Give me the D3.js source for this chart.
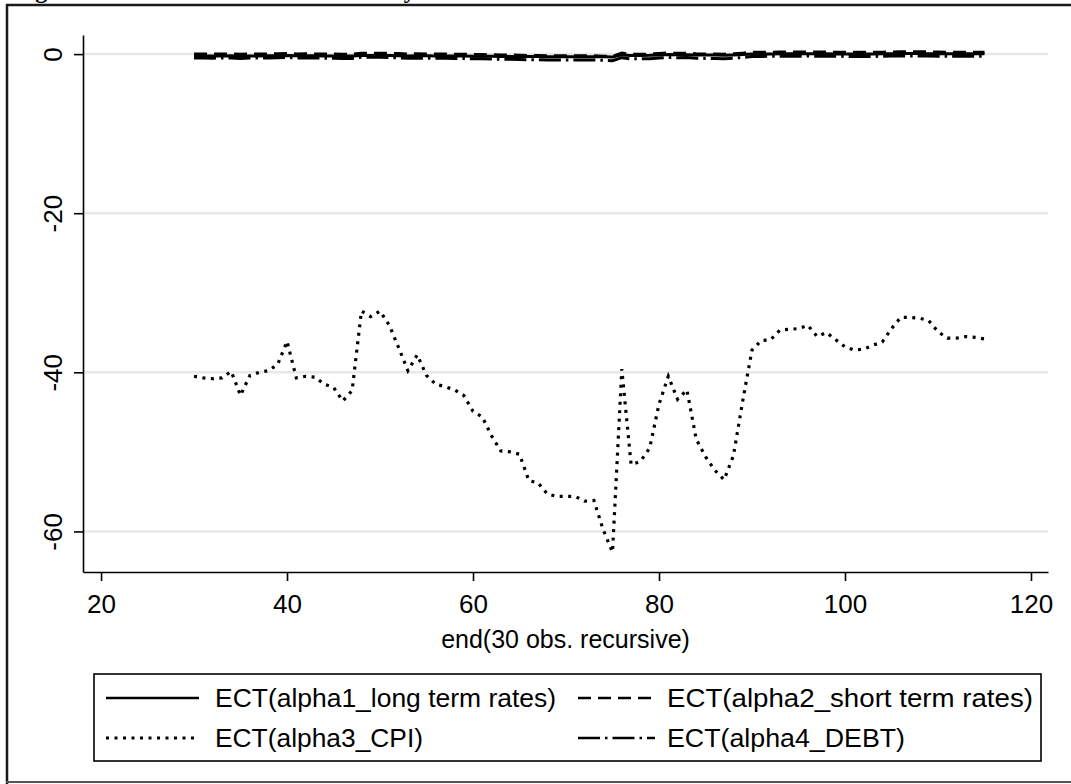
<!DOCTYPE html>
<html>
<head>
<meta charset="utf-8">
<script src="https://cdn.jsdelivr.net/npm/d3@7"></script>
<style>
  body { margin: 0; background: #fff; }
  svg { display: block; }
</style>
</head>
<body>
<div id="ect_vis"></div>
<script>
// recursive end points (30 obs. window)
let ends = d3.range(30, 116);

// ECT coefficient estimates
let alpha1 = [-0.22,-0.24,-0.25,-0.23,-0.22,-0.26,-0.24,-0.23,-0.21,-0.20,
              -0.18,-0.22,-0.21,-0.22,-0.24,-0.23,-0.25,-0.24,-0.17,-0.18,
              -0.17,-0.19,-0.20,-0.23,-0.21,-0.22,-0.23,-0.23,-0.24,-0.24,
              -0.26,-0.27,-0.28,-0.29,-0.29,-0.30,-0.31,-0.31,-0.32,-0.32,
              -0.32,-0.32,-0.33,-0.32,-0.34,-0.36,-0.10,-0.18,-0.17,-0.15,
              -0.10,-0.06,-0.08,-0.07,-0.10,-0.11,-0.12,-0.13,-0.10,-0.05,
               0.00, 0.01, 0.02, 0.03, 0.03, 0.03, 0.04, 0.03, 0.03, 0.02,
               0.01, 0.00, 0.01, 0.02, 0.03, 0.05, 0.06, 0.06, 0.06, 0.05,
               0.04, 0.03, 0.03, 0.03, 0.03, 0.03];

let alpha2 = [ 0.02, 0.00, 0.00, 0.01, 0.03,-0.03, 0.01, 0.02, 0.02, 0.04,
               0.08, 0.02, 0.03, 0.02, 0.01, 0.00,-0.02,-0.01, 0.12, 0.10,
               0.12, 0.09, 0.06, 0.02, 0.04, 0.01, 0.00, 0.00,-0.01,-0.02,
              -0.05,-0.06,-0.09,-0.12,-0.12,-0.13,-0.17,-0.18,-0.20,-0.20,
              -0.20,-0.20,-0.21,-0.21,-0.26,-0.30, 0.14,-0.03,-0.02, 0.00,
               0.08, 0.14, 0.10, 0.12, 0.05, 0.02, 0.00,-0.01, 0.03, 0.12,
               0.22, 0.23, 0.24, 0.26, 0.26, 0.26, 0.27, 0.25, 0.26, 0.24,
               0.23, 0.22, 0.22, 0.23, 0.24, 0.27, 0.29, 0.29, 0.29, 0.28,
               0.25, 0.24, 0.24, 0.24, 0.24, 0.24];

let alpha3 = [-40.5,-40.7,-40.8,-40.7,-39.9,-42.9,-40.4,-40.0,-39.8,-39.0,
              -36.1,-40.7,-40.5,-40.6,-41.5,-41.9,-43.6,-42.3,-32.3,-33.0,
              -32.3,-34.1,-36.9,-39.8,-37.8,-40.4,-41.5,-41.8,-42.2,-42.9,
              -44.9,-45.6,-48.0,-49.9,-50.0,-50.3,-53.6,-53.9,-55.3,-55.6,
              -55.6,-55.6,-56.2,-56.1,-59.8,-62.6,-39.6,-51.6,-51.2,-49.5,
              -44.0,-40.5,-43.4,-42.2,-48.4,-50.6,-52.3,-53.5,-50.5,-43.6,
              -37.2,-36.0,-35.9,-34.7,-34.6,-34.5,-34.1,-35.5,-35.0,-35.9,
              -36.8,-37.2,-37.1,-36.6,-36.2,-34.5,-33.1,-33.1,-33.2,-33.5,
              -34.9,-35.7,-35.7,-35.5,-35.6,-35.8];

let alpha4 = [-0.48,-0.50,-0.51,-0.50,-0.48,-0.54,-0.50,-0.49,-0.48,-0.46,
              -0.42,-0.49,-0.48,-0.49,-0.51,-0.52,-0.55,-0.54,-0.40,-0.41,
              -0.40,-0.43,-0.47,-0.51,-0.49,-0.52,-0.53,-0.53,-0.54,-0.55,
              -0.59,-0.60,-0.63,-0.66,-0.66,-0.67,-0.71,-0.72,-0.74,-0.74,
              -0.74,-0.74,-0.75,-0.75,-0.79,-0.83,-0.45,-0.60,-0.59,-0.57,
              -0.48,-0.43,-0.46,-0.44,-0.51,-0.54,-0.56,-0.57,-0.52,-0.42,
              -0.30,-0.29,-0.28,-0.26,-0.26,-0.26,-0.25,-0.27,-0.26,-0.28,
              -0.29,-0.30,-0.30,-0.29,-0.28,-0.25,-0.23,-0.23,-0.23,-0.24,
              -0.27,-0.28,-0.28,-0.28,-0.28,-0.28];

let xTicks = [20, 40, 60, 80, 100, 120];
let yTicks = [0, -20, -40, -60];

let seriesLabels = ["ECT(alpha1_long term rates)", "ECT(alpha2_short term rates)",
                    "ECT(alpha3_CPI)", "ECT(alpha4_DEBT)"];

let titleText = "Figure 6: ECT Coefficients Recursively";
let xTitle = "end(30 obs. recursive)";

// line patterns for each series (solid, dash, dot, long dash dot)
let dashes = ["none", "13,7", "3,5.5", "22,5,2.5,5"];

let font = "'Liberation Sans', Arial, sans-serif";

let svg = d3.select("#ect_vis")
    .append("svg")
    .attr("width", 1071)
    .attr("height", 784);

// scales
let x = d3.scaleLinear()
    .domain([18.06, 121.83])
    .range([83, 1048]);
let y = d3.scaleLinear()
    .domain([-65.1, 2.4])
    .range([572, 35]);

// title, only its lower edge shows above the frame
svg.append("text")
    .attr("x", 14)
    .attr("y", -2)
    .style("font-family", "'Liberation Serif', 'Times New Roman', serif")
    .style("font-weight", "bold")
    .style("font-size", "24px")
    .text(titleText);

// outer frame
svg.append("line")
    .attr("x1", 6).attr("x2", 1071).attr("y1", 5).attr("y2", 5)
    .style("stroke", "#1a1a1a").style("stroke-width", 2.5);
svg.append("line")
    .attr("x1", 7).attr("x2", 7).attr("y1", 4).attr("y2", 784)
    .style("stroke", "#1a1a1a").style("stroke-width", 2.5);
svg.append("line")
    .attr("x1", 6).attr("x2", 1071).attr("y1", 782).attr("y2", 782)
    .style("stroke", "#555").style("stroke-width", 2);

// gridlines
svg.selectAll(".grid")
    .data(yTicks)
    .enter()
    .append("line")
    .attr("class", "grid")
    .attr("x1", x.range()[0] + 1)
    .attr("x2", x.range()[1])
    .attr("y1", function(d) { return y(d); })
    .attr("y2", function(d) { return y(d); })
    .style("stroke", "#e8e8e8")
    .style("stroke-width", 2.5);

// series lines
let allSeries = [alpha1, alpha2, alpha3, alpha4];

let dataline = d3.line()
    .x(function(d, i) { return x(ends[i]); })
    .y(function(d) { return y(d); });

allSeries.forEach(function(s, k) {
    svg.append("path")
        .datum(s)
        .attr("class", "line")
        .style("fill", "none")
        .style("stroke", "#000")
        .style("stroke-width", k === 2 ? 3.2 : 3)
        .style("stroke-dasharray", dashes[k])
        .attr("d", dataline);
});

// y axis
let yAxis = svg.append("g")
    .attr("transform", "translate(" + x.range()[0] + ",0)")
    .call(d3.axisLeft(y).tickValues(yTicks).tickFormat(d3.format("d")).tickSize(9).tickSizeOuter(0));
yAxis.select(".domain").style("stroke-width", 1.6);
yAxis.selectAll(".tick line").style("stroke-width", 1.6);
yAxis.selectAll(".tick text")
    .attr("transform", "rotate(-90)")
    .attr("x", 0)
    .attr("y", -21)
    .attr("dy", 0)
    .style("text-anchor", "middle")
    .style("font-family", font)
    .style("font-size", "26px")
    .style("fill", "#000")
    .text(function(d) { return d === 0 ? "0" : "-" + Math.abs(d); });

// x axis
let xAxis = svg.append("g")
    .attr("transform", "translate(0," + y.range()[0] + ")")
    .call(d3.axisBottom(x).tickValues(xTicks).tickFormat(d3.format("d")).tickSize(9).tickSizeOuter(0));
xAxis.select(".domain").style("stroke-width", 1.6);
xAxis.selectAll(".tick line").style("stroke-width", 1.6);
xAxis.selectAll(".tick text")
    .attr("y", 41)
    .attr("dy", 0)
    .style("font-family", font)
    .style("font-size", "26px")
    .style("fill", "#000");

// x axis label
svg.append("text")
    .attr("x", (x.range()[0] + x.range()[1]) / 2)
    .attr("y", 648)
    .style("text-anchor", "middle")
    .style("font-family", font)
    .style("font-size", "25px")
    .text(xTitle);

// legend
svg.append("rect")
    .attr("x", 94)
    .attr("y", 674)
    .attr("width", 947)
    .attr("height", 87)
    .style("fill", "none")
    .style("stroke", "#000")
    .style("stroke-width", 1.6);

let legendPos = [
    { sx: 106, tx: 215, ly: 698, ty: 707, len: 341 },
    { sx: 578, tx: 667, ly: 698, ty: 707, len: 366 },
    { sx: 106, tx: 215, ly: 738, ty: 747, len: 208 },
    { sx: 578, tx: 667, ly: 738, ty: 747, len: 238 }
];

seriesLabels.forEach(function(label, k) {
    let p = legendPos[k];
    let w = k % 2 === 0 ? 93 : 77;
    svg.append("line")
        .attr("x1", p.sx).attr("x2", p.sx + w)
        .attr("y1", p.ly).attr("y2", p.ly)
        .style("stroke", "#000")
        .style("stroke-width", k === 2 ? 2.8 : 2.4)
        .style("stroke-dasharray", dashes[k]);
    svg.append("text")
        .attr("x", p.tx)
        .attr("y", p.ty)
        .attr("textLength", p.len)
        .attr("lengthAdjust", "spacingAndGlyphs")
        .style("font-family", font)
        .style("font-size", "26px")
        .text(label);
});
</script>
</body>
</html>
